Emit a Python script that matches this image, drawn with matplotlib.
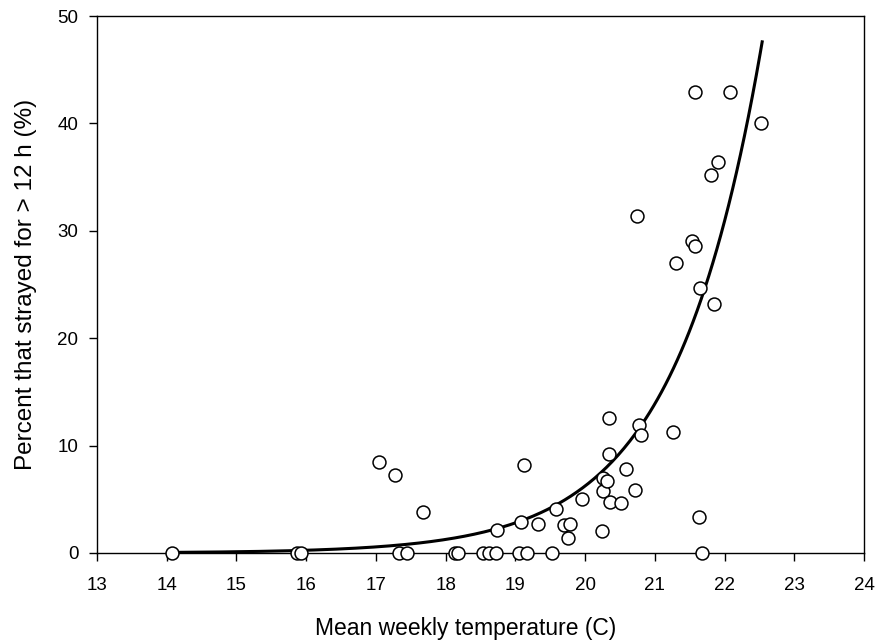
import numpy as np
import matplotlib
matplotlib.use("Agg")
import matplotlib.pyplot as plt

plt.rcParams['font.family'] = ['Liberation Sans', 'DejaVu Sans']

temperature = [14.08, 15.87, 15.92, 17.05, 17.27, 17.68, 17.33, 17.45, 18.13, 18.18,
               18.53, 18.62, 18.72, 19.05, 19.16, 19.53, 21.68,
               18.73, 19.08, 19.13, 19.33, 19.58, 19.70, 19.78, 19.75, 19.95,
               20.24, 20.25, 20.26, 20.31, 20.34, 20.34, 20.36, 20.52, 20.59,
               20.72, 20.77, 20.80, 21.26, 21.64,
               21.57, 22.08, 22.53, 21.90, 21.80, 20.74, 21.54, 21.57, 21.31,
               21.65, 21.85]
percent = [0.0, 0.0, 0.0, 8.44, 7.23, 3.82, 0.0, 0.0, 0.0, 0.0,
           0.0, 0.0, 0.0, 0.0, 0.0, 0.0, 0.0,
           2.14, 2.89, 8.22, 2.70, 4.07, 2.58, 2.73, 1.37, 5.03,
           2.05, 5.80, 7.01, 6.70, 9.22, 12.6, 4.75, 4.62, 7.79,
           5.87, 11.9, 10.99, 11.24, 3.35,
           42.92, 42.92, 40.07, 36.4, 35.17, 31.38, 29.08, 28.58, 27.0,
           24.65, 23.18]

# exponential fit: y = fit_a * exp(fit_b * (x - fit_x0))
fit_a = 47.6
fit_b = 0.80
fit_x0 = 22.54
fit_range = (14.08, 22.54)

x_ticks = list(range(13, 25))
y_ticks = [0, 10, 20, 30, 40, 50]

fig = plt.figure(figsize=(8.75, 6.43), dpi=100)
ax = fig.add_axes([0.1109, 0.140, 0.8765, 0.835])

xf = np.linspace(fit_range[0], fit_range[1], 300)
yf = fit_a * np.exp(fit_b * (xf - fit_x0))
ax.plot(xf, yf, color='black', lw=2.2, zorder=3)

ax.plot(temperature, percent, linestyle='none', marker='o', markersize=9.3,
        markerfacecolor='white', markeredgecolor='black', markeredgewidth=1.1,
        clip_on=False, zorder=4)

ax.set_xlim(13, 24)
ax.set_ylim(0, 50)
ax.set_xticks(x_ticks)
ax.set_yticks(y_ticks)
ax.tick_params(direction='out', length=5.5, width=1, labelsize=13.5)
ax.tick_params(axis='x', pad=11.5)
ax.tick_params(axis='y', pad=8)
for s in ax.spines.values():
    s.set_linewidth(1.0)

ax.set_xlabel('Mean weekly temperature (C)', fontsize=16.5)
ax.set_ylabel('Percent that strayed for > 12 h (%)', fontsize=17.5)
ax.xaxis.set_label_coords(0.480, -0.120)
ax.yaxis.set_label_coords(-0.078, 0.5)

fig.savefig('out.png', dpi=100)
